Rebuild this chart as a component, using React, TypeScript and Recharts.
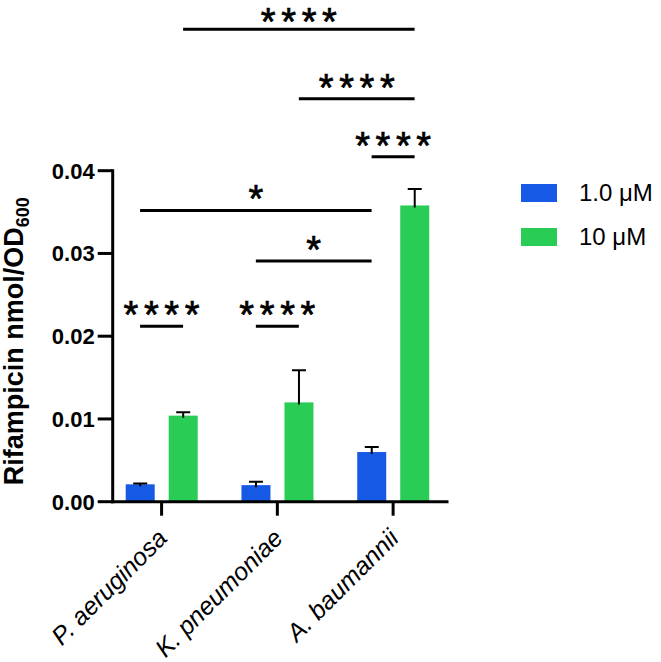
import React from 'react';
import { BarChart, Bar, XAxis, YAxis, ReferenceLine, Legend } from 'recharts';

// data
const categories = ['P. aeruginosa', 'K. pneumoniae', 'A. baumannii'];
const lowDose = [0.0021, 0.002, 0.006];
const lowDoseErr = [0.0001, 0.0004, 0.0006];
const highDose = [0.0104, 0.012, 0.0358];
const highDoseErr = [0.0004, 0.0039, 0.002];
const yTicks = [0, 0.01, 0.02, 0.03, 0.04];
const seriesNames = ['1.0 μM', '10 μM'];

// significance brackets: [fromCategory, fromSeries, toCategory, toSeries, y, stars]
const sigBrackets: [string, 'low' | 'high', string, 'low' | 'high', number, string][] = [
  ['P. aeruginosa', 'high', 'A. baumannii', 'high', 0.0571, '****'],
  ['K. pneumoniae', 'high', 'A. baumannii', 'high', 0.0487, '****'],
  ['A. baumannii', 'low', 'A. baumannii', 'high', 0.0417, '****'],
  ['P. aeruginosa', 'low', 'A. baumannii', 'low', 0.0352, '*'],
  ['K. pneumoniae', 'low', 'A. baumannii', 'low', 0.0291, '*'],
  ['P. aeruginosa', 'low', 'P. aeruginosa', 'high', 0.0212, '****'],
  ['K. pneumoniae', 'low', 'K. pneumoniae', 'high', 0.0212, '****'],
];

const data = categories.map((name, i) => ({
  name,
  low: lowDose[i],
  lowErr: lowDoseErr[i],
  high: highDose[i],
  highErr: highDoseErr[i],
}));

const FONT = '"Liberation Sans", Arial, Helvetica, sans-serif';
const BLUE = '#1659e5';
const GREEN = '#29cc55';
const BAR_SIZE = 29;
const BAR_GAP = 14;
const HALF_STEP = (BAR_SIZE + BAR_GAP) / 2;
const STAR_SIZE = 38;

// bar with an upward-only error whisker
function BarWithError(props: any) {
  const { x, y, width, height, fill, payload, dataKey } = props;
  const value = payload[dataKey];
  const err = payload[dataKey + 'Err'];
  const errTop = value > 0 ? y - (err * height) / value : y;
  const cx = x + width / 2;
  return (
    <g>
      <rect x={x} y={y} width={width} height={height} fill={fill} />
      <line x1={cx} y1={y + 2} x2={cx} y2={errTop} stroke="#000" strokeWidth={2} />
      <line x1={cx - 7} y1={errTop} x2={cx + 7} y2={errTop} stroke="#000" strokeWidth={2} />
    </g>
  );
}

function makeSigShape(fromSeries: string, toSeries: string, stars: string) {
  return (p: any) => {
    const dx1 = fromSeries === 'low' ? -HALF_STEP : HALF_STEP;
    const dx2 = toSeries === 'low' ? -HALF_STEP : HALF_STEP;
    const xa = p.x1 + dx1;
    const xb = p.x2 + dx2;
    const spacing = 5.6;
    // keep the text box inside the svg for the topmost bracket
    const ty = Math.max(p.y1 + 2, STAR_SIZE * 0.92);
    return (
      <g>
        <line x1={xa} y1={p.y1} x2={xb} y2={p.y1} stroke="#000" strokeWidth={3} />
        <text
          x={(xa + xb) / 2 + spacing / 2}
          y={ty}
          textAnchor="middle"
          fontFamily={FONT}
          fontSize={STAR_SIZE}
          letterSpacing={spacing}
          fill="#000"
          stroke="#000"
          strokeWidth={0.7}
        >
          {stars}
        </text>
      </g>
    );
  };
}

function XTick(props: any) {
  const { x, y, payload } = props;
  const tx = x + 7;
  const ty = y + 22;
  return (
    <text
      x={tx}
      y={ty}
      transform={`rotate(-45 ${tx} ${ty})`}
      textAnchor="end"
      fontFamily={FONT}
      fontSize={25}
      fontStyle="italic"
      fill="#000"
    >
      {payload.value}
    </text>
  );
}

function renderYLabel(props: any) {
  const vb = props.viewBox;
  const cx = 23;
  const cy = vb.y + vb.height / 2 + 5;
  return (
    <text
      x={cx}
      y={cy}
      transform={`rotate(-90 ${cx} ${cy})`}
      textAnchor="middle"
      fontFamily={FONT}
      fontSize={27}
      fontWeight="bold"
      fill="#000"
    >
      Rifampicin nmol/OD
      <tspan fontSize={18} dy={6}>
        600
      </tspan>
    </text>
  );
}

function renderLegend(props: any) {
  const items = props.payload || [];
  return (
    <div style={{ fontFamily: FONT }}>
      {items.map((item: any) => (
        <div key={item.value} style={{ display: 'flex', alignItems: 'center', height: 44 }}>
          <div style={{ width: 36, height: 18, background: item.color, marginRight: 22 }} />
          <span style={{ fontSize: 24, color: '#000' }}>{item.value}</span>
        </div>
      ))}
    </div>
  );
}

export default function App() {
  return (
    <div style={{ position: 'absolute', left: 0, top: 0, background: '#fff' }}>
      <BarChart
        width={661}
        height={662}
        data={data}
        margin={{ top: 170.7, right: 214, bottom: 0, left: 0 }}
        barSize={BAR_SIZE}
        barGap={BAR_GAP}
      >
        <XAxis
          dataKey="name"
          height={160.3}
          interval={0}
          padding={{ left: -9, right: -4 }}
          axisLine={{ stroke: '#000', strokeWidth: 3, strokeLinecap: 'square' }}
          tickLine={{ stroke: '#000', strokeWidth: 3 }}
          tickSize={14}
          tick={<XTick />}
        />
        <YAxis
          width={112.7}
          domain={[0, 0.04]}
          ticks={yTicks}
          allowDataOverflow
          tickFormatter={(v: number) => v.toFixed(2)}
          axisLine={{ stroke: '#000', strokeWidth: 3, strokeLinecap: 'square' }}
          tickLine={{ stroke: '#000', strokeWidth: 3 }}
          tickSize={15}
          tickMargin={3}
          tick={{ fill: '#000', fontSize: 22, fontWeight: 'bold', fontFamily: FONT }}
          label={{ content: renderYLabel }}
        />
        <Legend
          layout="vertical"
          align="center"
          verticalAlign="middle"
          wrapperStyle={{ left: 521, top: 171, width: 140 }}
          content={renderLegend}
        />
        <Bar dataKey="low" name={seriesNames[0]} fill={BLUE} shape={<BarWithError />} isAnimationActive={false} />
        <Bar dataKey="high" name={seriesNames[1]} fill={GREEN} shape={<BarWithError />} isAnimationActive={false} />
        {sigBrackets.map(([fromCat, fromS, toCat, toS, yv, stars], i) => (
          <ReferenceLine
            key={i}
            segment={[
              { x: fromCat, y: yv },
              { x: toCat, y: yv },
            ]}
            ifOverflow="visible"
            shape={makeSigShape(fromS, toS, stars)}
          />
        ))}
      </BarChart>
    </div>
  );
}
